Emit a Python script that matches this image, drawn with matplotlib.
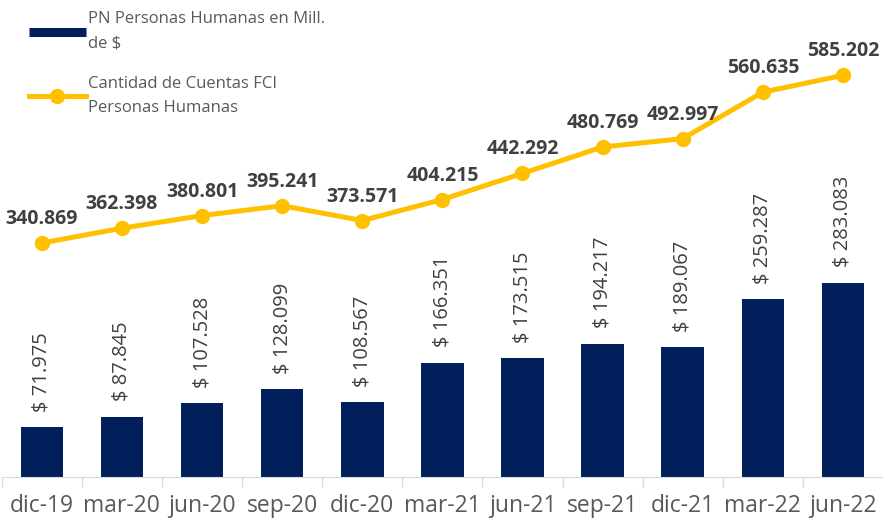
import matplotlib.pyplot as plt
from matplotlib.patches import Rectangle
from matplotlib.lines import Line2D

plt.rcParams['font.family'] = ['Open Sans', 'DejaVu Sans']

# datos
periodos = ["dic-19", "mar-20", "jun-20", "sep-20", "dic-20", "mar-21",
            "jun-21", "sep-21", "dic-21", "mar-22", "jun-22"]
pn_millones = [71.975, 87.845, 107.528, 128.099, 108.567, 166.351,
               173.515, 194.217, 189.067, 259.287, 283.083]
cuentas_fci = [340.869, 362.398, 380.801, 395.241, 373.571, 404.215,
               442.292, 480.769, 492.997, 560.635, 585.202]

def fmt(v):
    return f"{v:.3f}"

azul = "#001F5B"
amarillo = "#FFC000"

fig = plt.figure(figsize=(8.83, 5.2), dpi=100)
ax = fig.add_axes([0.002, 0.083, 0.998, 0.917])

x = list(range(len(periodos)))
ax.bar(x, pn_millones, width=0.53, color=azul, zorder=2)
ax.plot(x, cuentas_fci, color=amarillo, lw=3.6, marker="o", ms=10, zorder=3)

for xi, v in zip(x, pn_millones):
    ax.annotate("$ " + fmt(v), (xi, v), xytext=(0, 11), textcoords="offset points",
                rotation=90, ha="center", va="bottom", fontsize=14.5, color="#404040")

for xi, v in zip(x, cuentas_fci):
    ax.annotate(fmt(v), (xi, v), xytext=(0, 10), textcoords="offset points",
                ha="center", va="bottom", fontsize=14, fontweight="bold", color="#404040")

ax.set_xlim(-0.5, 10.5)
ax.set_ylim(0, 695)
ax.set_yticks([])
ax.set_xticks(x)
ax.set_xticklabels(periodos, fontsize=16.5, color="#595959")
ax.set_xticks([i - 0.5 for i in range(len(periodos))], minor=True)
ax.tick_params(axis="x", which="major", length=0, pad=12)
ax.tick_params(axis="x", which="minor", length=7, color="#D9D9D9", width=1)
for s in ["top", "left", "right"]:
    ax.spines[s].set_visible(False)
ax.spines["bottom"].set_color("#D9D9D9")

handles = [
    Line2D([], [], color=azul, lw=6.5, solid_capstyle="butt"),
    Line2D([], [], color=amarillo, lw=3.6, marker="o", ms=10),
]
labels = ["PN Personas Humanas en Mill.\nde $",
          "Cantidad de Cuentas FCI\nPersonas Humanas"]
leg = ax.legend(handles, labels, loc="upper left", bbox_to_anchor=(0.014, 1.008),
                frameon=False, fontsize=12, labelcolor="#595959", handlelength=3.4,
                handletextpad=0.15, labelspacing=1.45)
for t in leg.get_texts():
    t.set_linespacing(1.7)

fig.add_artist(Rectangle((0.565, 0.987), 0.435, 0.013, transform=fig.transFigure,
                         color="#D6E4F2", zorder=0))

plt.savefig("out.png")
